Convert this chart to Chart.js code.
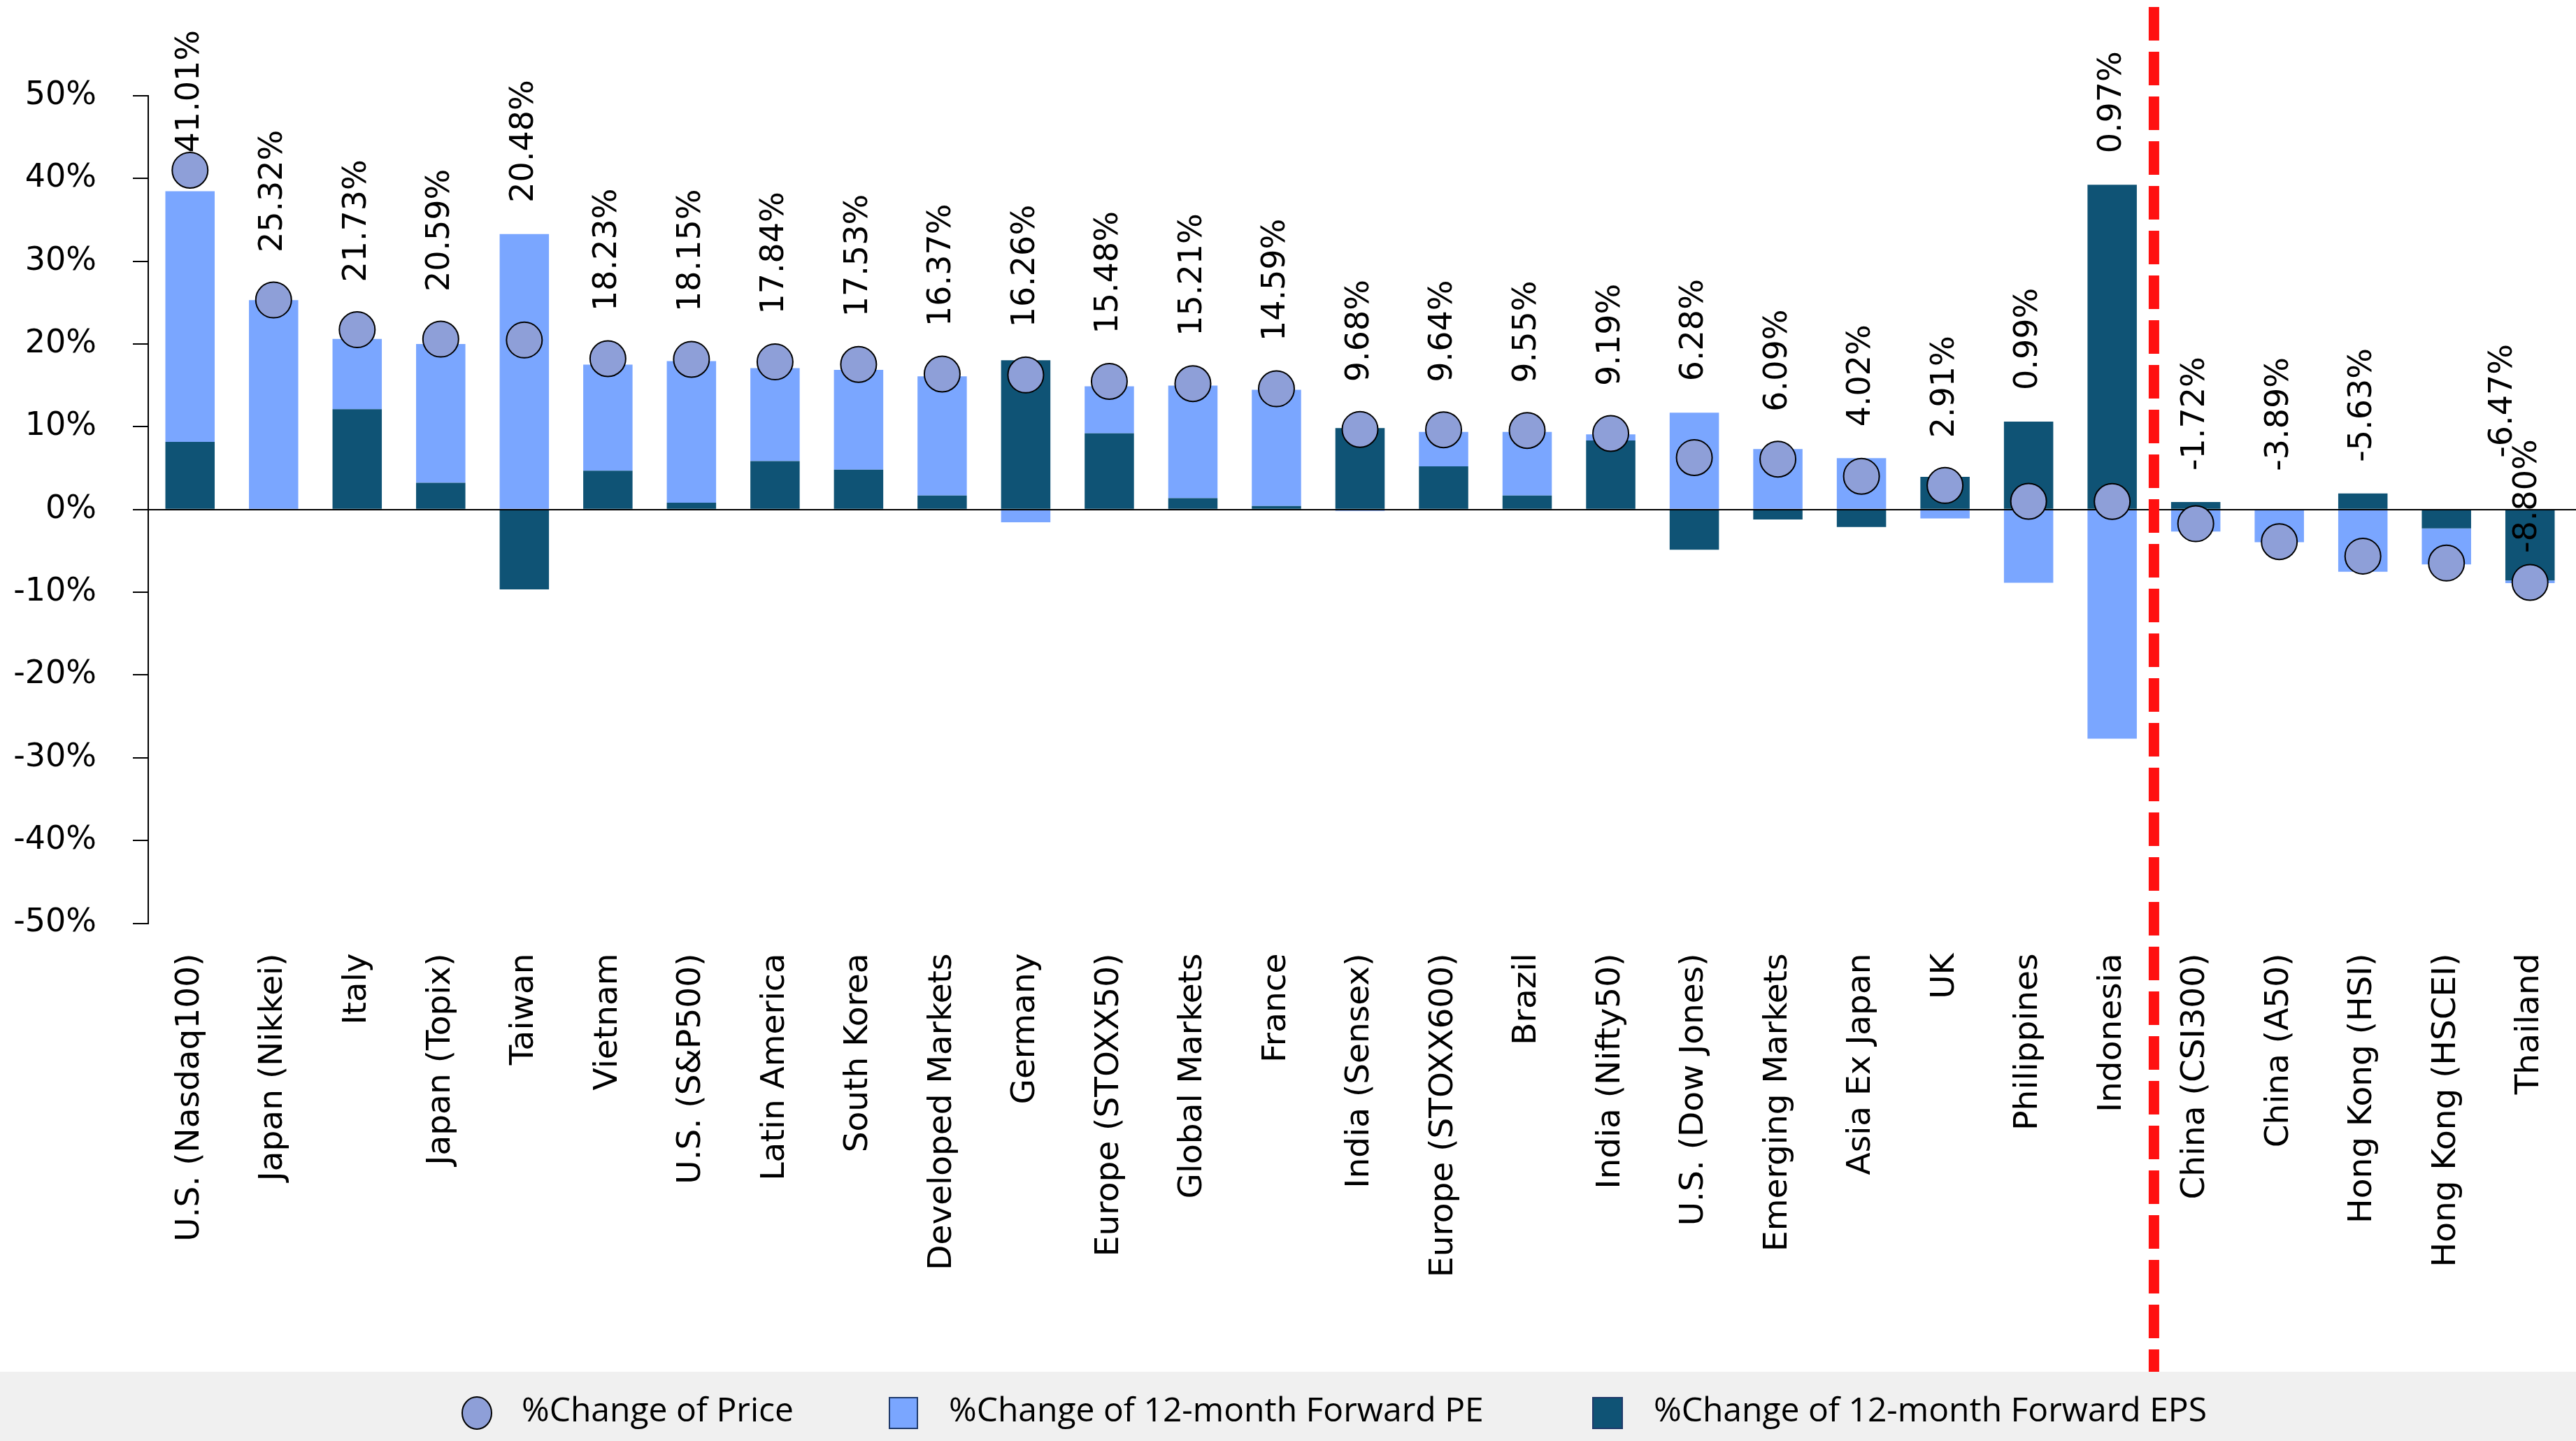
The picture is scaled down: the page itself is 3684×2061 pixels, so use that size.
<!DOCTYPE html>
<html>
<head>
<meta charset="utf-8">
<title>Price, Forward PE and Forward EPS change by market</title>
<script src="https://cdn.jsdelivr.net/npm/chart.js"></script>
<style>
  html, body { margin: 0; padding: 0; background: #ffffff; }
  #wrap { width: 3684px; height: 2061px; position: relative; }
  canvas { display: block; }
</style>
</head>
<body>
<div id="wrap"><canvas id="chart" width="3684" height="2061"></canvas></div>
<script>
// Markets, ordered from the strongest to the weakest price change
const categories = [
  'U.S. (Nasdaq100)', 'Japan (Nikkei)', 'Italy', 'Japan (Topix)', 'Taiwan',
  'Vietnam', 'U.S. (S&P500)', 'Latin America', 'South Korea', 'Developed Markets',
  'Germany', 'Europe (STOXX50)', 'Global Markets', 'France', 'India (Sensex)',
  'Europe (STOXX600)', 'Brazil', 'India (Nifty50)', 'U.S. (Dow Jones)', 'Emerging Markets',
  'Asia Ex Japan', 'UK', 'Philippines', 'Indonesia', 'China (CSI300)',
  'China (A50)', 'Hong Kong (HSI)', 'Hong Kong (HSCEI)', 'Thailand'
];

// %Change of Price
const priceChange = [
  41.01, 25.32, 21.73, 20.59, 20.48,
  18.23, 18.15, 17.84, 17.53, 16.37,
  16.26, 15.48, 15.21, 14.59, 9.68,
  9.64, 9.55, 9.19, 6.28, 6.09,
  4.02, 2.91, 0.99, 0.97, -1.72,
  -3.89, -5.63, -6.47, -8.80
];

// %Change of 12-month Forward EPS (bottom segment of each stack)
const epsChange = [
  8.18, 0.00, 12.13, 3.23, -9.66,
  4.69, 0.82, 5.85, 4.82, 1.68,
  18.03, 9.21, 1.38, 0.43, 9.85,
  5.21, 1.68, 8.35, -4.86, -1.20,
  -2.11, 3.96, 10.63, 39.24, 0.90,
  0.00, 1.94, -2.28, -8.57
];

// %Change of 12-month Forward PE (stacked on the EPS segment)
const peChange = [
  30.29, 25.30, 8.48, 16.77, 33.30,
  12.82, 17.12, 11.23, 12.05, 14.41,
  -1.55, 5.68, 13.59, 14.03, -0.17,
  4.17, 7.70, 0.73, 11.70, 7.31,
  6.20, -1.08, -8.86, -27.70, -2.67,
  -3.95, -7.52, -4.36, -0.32
];

// Value axis ticks
const yTicks = [-50, -40, -30, -20, -10, 0, 10, 20, 30, 40, 50];

// Series names shown in the legend
const seriesNames = ['%Change of Price', '%Change of 12-month Forward PE', '%Change of 12-month Forward EPS'];

// Last market left of the divider
const dividerAfter = 'Indonesia';

const COLORS = {
  price: '#8E9FD8',
  pe: '#7AA6FF',
  eps: '#0F5375',
  divider: '#FF1111',
  band: '#F0F0F0'
};
const Y_TICK_FONT = { family: '"DejaVu Sans", sans-serif', size: 46 };
const X_TICK_FONT = { family: '"DejaVu Sans", sans-serif', size: 47 };
const LABEL_FONT = '46px "DejaVu Sans", sans-serif';
const LEGEND_FONT = '48px "Open Sans", sans-serif';

// Axis line at zero, drawn above the bars but beneath the price markers
const zeroLine = {
  id: 'zeroLine',
  beforeDatasetDraw(chart, args) {
    if (args.index !== 0) return;
    const { ctx, chartArea } = chart;
    const y0 = Math.round(chart.scales.y.getPixelForValue(0));
    ctx.save();
    ctx.strokeStyle = '#000';
    ctx.lineWidth = 2;
    ctx.beginPath();
    ctx.moveTo(chartArea.left - 22, y0);
    ctx.lineTo(chartArea.right + 6, y0);
    ctx.stroke();
    ctx.restore();
  }
};

// Rotated value labels for the price markers
const priceLabels = {
  id: 'priceLabels',
  afterDatasetsDraw(chart, args, opts) {
    const { ctx } = chart;
    const yScale = chart.scales.y;
    const pts = chart.getDatasetMeta(0).data;
    const epsBars = chart.getDatasetMeta(1).data;
    const peBars = chart.getDatasetMeta(2).data;
    const zeroY = yScale.getPixelForValue(0);
    ctx.save();
    ctx.font = LABEL_FONT;
    ctx.fillStyle = '#000';
    ctx.textAlign = 'left';
    ctx.textBaseline = 'middle';
    priceChange.forEach((v, i) => {
      const text = v.toFixed(2) + '%';
      const w = ctx.measureText(text).width;
      const pt = pts[i];
      const barTop = Math.min(
        Math.min(epsBars[i].y, epsBars[i].base),
        Math.min(peBars[i].y, peBars[i].base)
      );
      let x = pt.x;
      let y = Math.min(pt.y - opts.pointGap, barTop - opts.barGap, zeroY - opts.zeroGap);
      const n = opts.nudges[categories[i]];
      if (n) {
        if (n.fromPoint !== undefined) y = pt.y - n.fromPoint;
        x += n.dx || 0;
        y += n.dy || 0;
      }
      y = Math.max(y, opts.minTop + w);
      ctx.save();
      ctx.translate(x, y);
      ctx.rotate(-Math.PI / 2);
      ctx.fillText(text, 0, 0);
      ctx.restore();
    });
    ctx.restore();
  }
};

// Dashed divider and the legend band along the bottom
const overlay = {
  id: 'overlay',
  afterDraw(chart) {
    const { ctx } = chart;
    const xScale = chart.scales.x;
    const H = chart.height, W = chart.width;
    const bandTop = 1962;

    // legend band
    ctx.save();
    ctx.fillStyle = COLORS.band;
    ctx.fillRect(0, bandTop, W, H - bandTop);

    // divider between the two groups of markets
    const k = categories.indexOf(dividerAfter);
    const xd = (xScale.getPixelForValue(k) + xScale.getPixelForValue(k + 1)) / 2;
    ctx.strokeStyle = COLORS.divider;
    ctx.lineWidth = 15;
    ctx.setLineDash([48, 16]);
    ctx.beginPath();
    ctx.moveTo(xd, 10);
    ctx.lineTo(xd, bandTop);
    ctx.stroke();
    ctx.setLineDash([]);

    // legend entries
    const cy = 2021;
    ctx.font = LEGEND_FONT;
    ctx.textAlign = 'left';
    ctx.textBaseline = 'middle';

    ctx.beginPath();
    ctx.ellipse(682, cy, 21, 23, 0, 0, Math.PI * 2);
    ctx.fillStyle = COLORS.price;
    ctx.fill();
    ctx.lineWidth = 2;
    ctx.strokeStyle = '#000';
    ctx.stroke();
    ctx.fillStyle = '#000';
    ctx.fillText(seriesNames[0], 746, cy - 2);

    ctx.fillStyle = COLORS.pe;
    ctx.fillRect(1272, cy - 22, 40, 44);
    ctx.strokeStyle = '#1F3A6B';
    ctx.lineWidth = 2;
    ctx.strokeRect(1272, cy - 22, 40, 44);
    ctx.fillStyle = '#000';
    ctx.fillText(seriesNames[1], 1357, cy - 2);

    ctx.fillStyle = COLORS.eps;
    ctx.fillRect(2278, cy - 22, 42, 44);
    ctx.strokeStyle = '#1F3A6B';
    ctx.strokeRect(2278, cy - 22, 42, 44);
    ctx.fillStyle = '#000';
    ctx.fillText(seriesNames[2], 2365, cy - 2);
    ctx.restore();
  }
};

new Chart(document.getElementById('chart'), {
  type: 'bar',
  data: {
    labels: categories,
    datasets: [
      {
        type: 'line',
        label: seriesNames[0],
        data: priceChange,
        stack: 'price',
        order: 0,
        showLine: false,
        pointRadius: 25.5,
        pointHoverRadius: 25.5,
        pointBackgroundColor: COLORS.price,
        pointBorderColor: '#000',
        pointBorderWidth: 2,
        backgroundColor: COLORS.price,
        borderColor: '#000'
      },
      {
        label: seriesNames[2],
        data: epsChange,
        stack: 'parts',
        order: 1,
        backgroundColor: COLORS.eps,
        barPercentage: 0.59,
        categoryPercentage: 1.0
      },
      {
        label: seriesNames[1],
        data: peChange,
        stack: 'parts',
        order: 2,
        backgroundColor: COLORS.pe,
        barPercentage: 0.59,
        categoryPercentage: 1.0
      }
    ]
  },
  options: {
    responsive: false,
    animation: false,
    devicePixelRatio: 1,
    layout: { autoPadding: false, padding: { top: 137, left: 20, right: 6, bottom: 0 } },
    plugins: {
      legend: { display: false },
      tooltip: { enabled: false },
      priceLabels: {
        pointGap: 68,
        barGap: 45,
        zeroGap: 55,
        minTop: 43,
        nudges: {
          'Hong Kong (HSCEI)': { dx: 81, dy: -19 },
          'Thailand': { fromPoint: 42, dx: -3 }
        }
      }
    },
    scales: {
      x: {
        stacked: true,
        offset: true,
        grid: { display: false, drawTicks: false },
        border: { display: false },
        ticks: {
          autoSkip: false,
          minRotation: 90,
          maxRotation: 90,
          padding: 43,
          color: '#000',
          font: X_TICK_FONT
        },
        afterFit(scale) {
          scale.height = 740.5;
          scale.paddingLeft = 0;
          scale.paddingRight = 0;
        }
      },
      y: {
        stacked: true,
        min: yTicks[0],
        max: yTicks[yTicks.length - 1],
        afterBuildTicks(scale) { scale.ticks = yTicks.map(v => ({ value: v })); },
        grid: {
          color: c => (c.tick && c.tick.value === 0 ? '#000' : 'rgba(0,0,0,0)'),
          lineWidth: 2,
          tickColor: '#000',
          tickLength: 22,
          drawTicks: true
        },
        border: { display: true, color: '#000', width: 2 },
        ticks: {
          padding: 52,
          color: '#000',
          font: Y_TICK_FONT,
          callback: v => v + '%'
        },
        afterFit(scale) {
          scale.width = 192;
          scale.paddingTop = 0;
          scale.paddingBottom = 0;
        }
      }
    }
  },
  plugins: [zeroLine, priceLabels, overlay]
});
</script>
</body>
</html>
